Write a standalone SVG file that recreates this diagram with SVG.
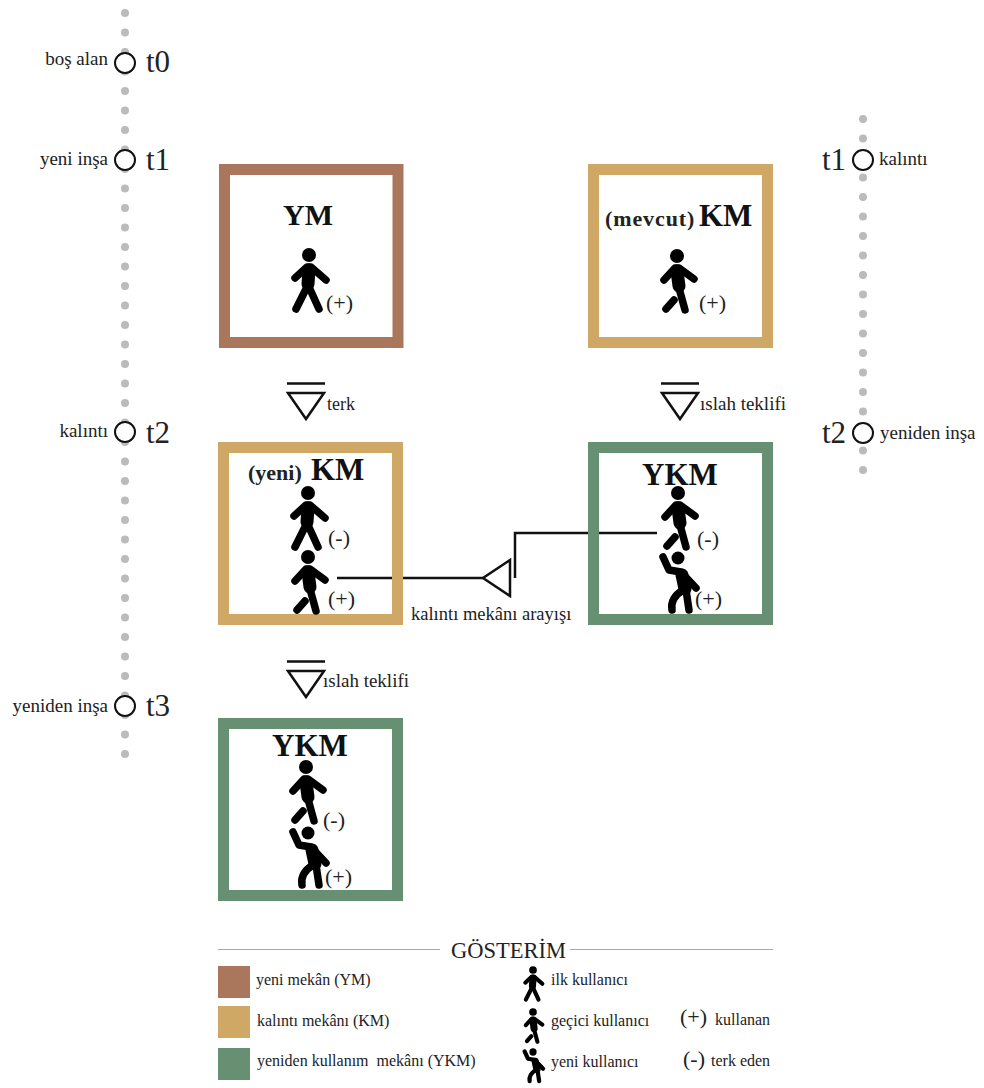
<svg xmlns="http://www.w3.org/2000/svg" width="984" height="1088" viewBox="0 0 984 1088">
<style>
text{font-family:"Liberation Serif","Times New Roman",serif;fill:#222;white-space:pre}
.title{font-weight:bold;font-size:31px;fill:#111}
.sub{font-weight:bold;font-size:22px}
.lab{font-size:19px}
.t{font-size:31px}
.sign{font-size:22px}
.leg{font-size:16px}
.box{fill:none;stroke-width:11}
.ym{stroke:#ab775c}.km{stroke:#cfa866}.ykm{stroke:#679073}
.dots{fill:none;stroke:#bbb;stroke-width:8;stroke-linecap:round;stroke-dasharray:0 19.5}
.ring{fill:#fff;stroke:#111;stroke-width:2}
.line{fill:none;stroke:#111;stroke-width:2.500}
.limb{fill:none;stroke:#000;stroke-width:7.500;stroke-linecap:round;stroke-linejoin:round}
.torso{fill:none;stroke:#000;stroke-width:13;stroke-linecap:round}
</style>
<defs>
<g id="first"><circle cx="0" cy="0" r="7"/><path class="limb" d="M-14 23L-2 12L2 12L17 25"/><path class="torso" d="M0 15L-1 29"/><path class="limb" d="M-13 54L-2 32"/><path class="limb" d="M10 54L0 32"/></g>
<g id="temp"><circle cx="0" cy="0" r="7"/><path class="limb" d="M-13 24L-2 12L2 12L17 23"/><path class="torso" d="M0 15L2 30"/><path class="limb" d="M2 32L8 54"/><path class="limb" d="M-3 44L-11 53"/></g>
<g id="new"><circle cx="0" cy="0" r="6.500"/><path class="limb" d="M-15 -1L-9 12L3 14L18 30"/><path class="torso" d="M4 17L7 31"/><path class="limb" d="M8 32L11 52"/><path class="limb" d="M5 32Q-8 40 -6 52"/></g>
<g id="tri"><path class="line" d="M-19 -4.500H19M-18 5L0 31L18 5Z"/></g>
</defs>

<g id="connectors">
<path class="line" d="M337 578H483"/>
<path class="line" d="M510 560L483 578L510 596Z"/>
<path class="line" d="M515 578V533H657"/>
</g>

<g id="timeline-left">
<path class="dots" d="M125 13V755"/>
<circle class="ring" cx="125" cy="63" r="10"/><circle class="ring" cx="125" cy="160" r="10"/><circle class="ring" cx="125" cy="432" r="10"/><circle class="ring" cx="125" cy="706" r="10"/>
<text class="t" x="146" y="72">t0</text><text class="t" x="146" y="170">t1</text><text class="t" x="146" y="443">t2</text><text class="t" x="146" y="716">t3</text>
<text class="lab" x="108" y="65" text-anchor="end">boş alan</text><text class="lab" x="108" y="165" text-anchor="end">yeni inşa</text><text class="lab" x="108" y="437" text-anchor="end">kalıntı</text><text class="lab" x="108" y="712" text-anchor="end">yeniden inşa</text>
</g>

<g id="timeline-right">
<path class="dots" d="M863 119V477"/>
<circle class="ring" cx="863" cy="160" r="10"/><circle class="ring" cx="863" cy="433" r="10"/>
<text class="t" x="822" y="170">t1</text><text class="t" x="822" y="443">t2</text>
<text class="lab" x="879" y="165">kalıntı</text><text class="lab" x="880" y="439">yeniden inşa</text>
</g>

<g id="node-ym">
<rect class="box ym" x="224.500" y="169.500" width="173.500" height="173"/>
<text class="title" x="283" y="225" style="font-size:30px">YM</text>
<use href="#first" x="309" y="255"/>
<text class="sign" x="326" y="310">(+)</text>
</g>

<g id="node-km-current">
<rect class="box km" x="593.500" y="169.500" width="174" height="173"/>
<text class="sub" x="605" y="226" style="letter-spacing:.9px">(mevcut)</text><text class="title" x="699" y="226">KM</text>
<use href="#temp" x="677" y="256"/>
<text class="sign" x="699" y="310">(+)</text>
</g>

<g id="node-km-new">
<rect class="box km" x="223.500" y="447.500" width="174" height="172"/>
<text class="sub" x="248" y="480">(yeni)</text><text class="title" x="311" y="480">KM</text>
<use href="#first" x="308" y="493"/>
<text class="sign" x="328" y="545">(-)</text>
<use href="#temp" x="308" y="557"/>
<text class="sign" x="328" y="606">(+)</text>
</g>

<g id="node-ykm-right">
<rect class="box ykm" x="593.500" y="447.500" width="174" height="172"/>
<text class="title" x="642" y="485">YKM</text>
<use href="#temp" x="678" y="493"/>
<text class="sign" x="697" y="546">(-)</text>
<use href="#new" x="678" y="558"/>
<text class="sign" x="695" y="606">(+)</text>
</g>

<g id="node-ykm-bottom">
<rect class="box ykm" x="223.500" y="723.500" width="174" height="172"/>
<text class="title" x="272" y="756">YKM</text>
<use href="#temp" x="306" y="767"/>
<text class="sign" x="323" y="827">(-)</text>
<use href="#new" x="308" y="833"/>
<text class="sign" x="325" y="884">(+)</text>
</g>

<g id="transitions">
<use href="#tri" x="306" y="388"/><text class="lab" x="327" y="410" style="font-size:18px">terk</text>
<use href="#tri" x="680" y="388"/><text class="lab" x="700" y="410">ıslah teklifi</text>
<use href="#tri" x="306" y="666"/><text class="lab" x="323" y="687">ıslah teklifi</text>
<text class="lab" x="411" y="620" style="font-size:18.500px">kalıntı mekânı arayışı</text>
</g>

<g id="legend">
<path d="M218 949.500H440M570 949.500H773" fill="none" stroke="#aaa" stroke-width="1.200"/>
<text x="451" y="958" style="font-size:22.500px">GÖSTERİM</text>
<rect x="218" y="966" width="32" height="32" fill="#ab775c"/><rect x="218" y="1006" width="32" height="32" fill="#cfa866"/><rect x="218" y="1048" width="32" height="32" fill="#679073"/>
<text class="leg" x="256" y="985">yeni mekân (YM)</text>
<text class="leg" x="257" y="1026">kalıntı mekânı (KM)</text>
<text class="leg" x="257" y="1066">yeniden kullanım  mekânı (YKM)</text>
<use href="#first" transform="translate(533 970) scale(.55)"/>
<use href="#temp" transform="translate(533 1012) scale(.55)"/>
<use href="#new" transform="translate(533 1052) scale(.56)"/>
<text class="leg" x="551" y="985">ilk kullanıcı</text>
<text class="leg" x="551" y="1026">geçici kullanıcı</text>
<text class="leg" x="551" y="1067">yeni kullanıcı</text>
<text class="sign" x="680" y="1024">(+)</text><text class="leg" x="715" y="1025">kullanan</text>
<text class="sign" x="683" y="1066">(-)</text><text class="leg" x="711" y="1066">terk eden</text>
</g>
</svg>
